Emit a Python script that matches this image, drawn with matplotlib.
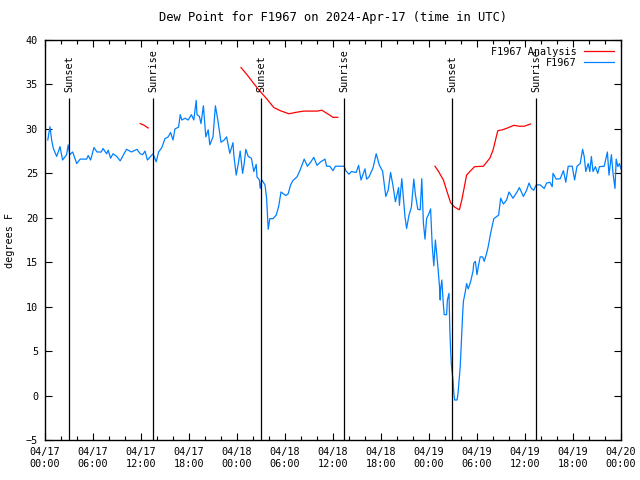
import pandas as pd
import numpy as np
import matplotlib
matplotlib.use("Agg")
import matplotlib.pyplot as plt
import matplotlib.dates as mdates

START = pd.Timestamp("2024-04-17 00:00")

# observed dew point (hours after start, deg F)
obs_hours = [0.35, 0.62, 0.83, 1.04, 1.46, 1.875, 2.2, 2.7, 2.9, 3.1, 3.46, 3.96, 4.4, 5.2, 5.4, 5.7,
             6.12, 6.5, 7.04, 7.25, 7.7, 7.9, 8.2, 8.5, 8.96, 9.4, 10.0, 10.2, 10.8, 11.5, 11.9,
             12.2, 12.5, 12.8, 13.1, 13.5, 13.9, 14.2, 14.6, 15.0, 15.4, 15.7, 16.0, 16.25, 16.7,
             16.9, 17.1, 17.5, 17.9, 18.3, 18.6, 18.9, 19.0, 19.3, 19.5, 19.8, 20.1, 20.4, 20.6,
             21.0, 21.3, 21.6, 22.0, 22.4, 22.7, 23.1, 23.5, 23.6, 23.9, 24.2, 24.4, 24.7, 24.9,
             25.1, 25.4, 25.8, 26.1, 26.4, 26.5, 26.8, 26.9, 27.1, 27.5, 27.7, 27.9, 28.1, 28.5,
             28.9, 29.2, 29.5, 29.8, 30.1, 30.4, 30.7, 31.0, 31.5, 31.9, 32.4, 32.8, 33.2, 33.6,
             34.0, 34.4, 35.0, 35.2, 35.6, 36.0, 36.3, 37.4, 37.6, 38.0, 38.3, 38.9, 39.2, 39.5,
             40.0, 40.2, 40.5, 41.0, 41.4, 41.8, 42.2, 42.6, 42.9, 43.2, 43.5, 43.8, 44.2, 44.3,
             44.6, 45.0, 45.2, 45.5, 45.8, 46.1, 46.3, 46.6, 46.9, 47.1, 47.3, 47.5, 47.7, 48.0,
             48.2, 48.4, 48.6, 48.8, 49.0, 49.1, 49.3, 49.4, 49.45, 49.6, 49.8, 49.9, 50.2, 50.3,
             50.5, 50.6, 50.7, 50.8, 51.0, 51.1, 51.2, 51.5, 51.6, 51.7, 51.9, 52.0, 52.2, 52.3,
             52.5, 52.7, 52.9, 53.2, 53.5, 53.6, 53.8, 54.0, 54.2, 54.4, 54.7, 54.9, 55.2, 55.4,
             55.7, 56.1, 56.7, 56.96, 57.3, 57.7, 58.0, 58.5, 59.0, 59.3, 59.8, 60.2, 60.5, 60.8,
             61.1, 61.4, 61.9, 62.4, 62.7, 63.1, 63.4, 63.5, 63.9, 64.4, 64.8, 65.1, 65.4, 65.9,
             66.2, 66.5, 66.9, 67.2, 67.4, 67.6, 67.9, 68.1, 68.3, 68.5, 68.8, 69.1, 69.3, 69.9,
             70.3, 70.5, 70.8, 71.0, 71.25, 71.4, 71.6, 71.8, 72.0]
obs_dewp = [28.75, 30.25, 28.75, 27.8, 26.9, 28.0, 26.5, 27.1, 28.2, 27.1, 27.4, 26.1, 26.6, 26.6, 27.0, 26.5,
            27.9, 27.4, 27.4, 27.8, 27.2, 27.6, 26.7, 27.2, 26.9, 26.4, 27.4, 27.7, 27.4, 27.7, 27.2,
            27.1, 27.5, 26.5, 26.8, 27.2, 26.3, 27.4, 27.9, 28.9, 29.1, 29.6, 28.75, 30.0, 30.2,
            31.6, 31.0, 31.2, 31.0, 31.6, 31.0, 33.2, 31.6, 31.4, 30.6, 32.6, 29.1, 29.9, 28.2,
            29.1, 32.6, 31.0, 28.5, 28.75, 29.1, 27.25, 28.45, 27.1, 24.8, 26.3, 27.5, 25.0, 26.1,
            27.7, 26.9, 26.7, 25.2, 26.0, 24.6, 24.25, 23.3, 24.25, 23.7, 22.2, 18.7, 19.9, 19.9,
            20.3, 21.25, 22.9, 22.7, 22.5, 22.7, 23.7, 24.2, 24.6, 25.4, 26.6, 25.8, 26.25, 26.8,
            25.9, 26.25, 26.6, 25.8, 25.8, 25.3, 25.8, 25.8, 25.3, 24.9, 25.2, 25.1, 25.9, 24.25,
            25.5, 24.35, 24.6, 25.6, 27.2, 25.9, 25.25, 22.4, 23.1, 25.1, 23.6, 21.8, 23.4, 21.4,
            24.4, 20.1, 18.8, 20.3, 21.2, 24.35, 22.6, 20.95, 20.9, 24.4, 19.4, 17.6, 19.9, 20.5,
            21.0, 16.9, 14.6, 17.5, 15.6, 14.6, 12.4, 10.75, 11.9, 13.0, 10.2, 9.1, 9.1, 10.75,
            11.5, 7.6, 5.1, 3.4, 1.75, 0.3, -0.5, -0.5, 0.06, 1.0, 3.25, 5.1, 9.1, 10.6,
            11.5, 12.6, 12.0, 12.8, 14.0, 14.9, 15.1, 13.6, 14.7, 15.6, 15.6, 15.1, 16.0, 16.75,
            18.25, 19.9, 20.3, 22.2, 21.55, 22.0, 22.9, 22.2, 22.9, 23.4, 22.4, 23.1, 23.9, 23.3,
            23.1, 23.7, 23.7, 23.3, 23.9, 24.0, 23.5, 25.0, 24.35, 24.4, 25.3, 24.0, 25.8, 25.8,
            24.25, 25.8, 26.1, 27.7, 26.9, 25.2, 26.1, 25.2, 26.9, 25.2, 25.75, 25.0, 25.75, 25.8,
            27.4, 24.8, 27.1, 25.0, 23.3, 26.6, 25.75, 26.1, 25.5]

# analysis dew point, one list per run
ana_hours_1 = [11.9, 12.4, 12.9]
ana_dewp_1 = [30.6, 30.4, 30.1]
ana_hours_2 = [24.5, 25.25, 26.1, 26.9, 27.7, 28.6, 29.4, 30.5, 31.3, 32.3, 34.0, 34.6, 35.5, 36.0, 36.6]
ana_dewp_2 = [36.9, 36.1, 35.1, 34.2, 33.4, 32.4, 32.05, 31.7, 31.85, 32.0, 32.0, 32.1, 31.6, 31.3, 31.3]
ana_hours_3 = [48.75, 49.2, 49.8, 50.2, 50.7, 51.2, 51.8, 52.1, 52.7, 53.1, 53.7, 54.8, 55.6, 56.0, 56.6,
               57.2, 57.8, 58.6, 59.3, 59.9, 60.7]
ana_dewp_3 = [25.8, 25.2, 24.25, 23.1, 21.7, 21.2, 20.9, 22.0, 24.8, 25.2, 25.75, 25.8, 26.7, 27.6, 29.8,
              29.9, 30.1, 30.4, 30.3, 30.3, 30.55]

sun_hours = [3.0, 13.5, 27.0, 37.4, 50.9, 61.4]
sun_labels = ["Sunset", "Sunrise", "Sunset", "Sunrise", "Sunset", "Sunrise"]


def to_time(hours):
    return START + pd.to_timedelta(np.asarray(hours, dtype=float), unit='h')


plt.rcParams['font.family'] = ['DejaVu Sans Mono']
plt.rcParams['font.size'] = 7.3

fig = plt.figure(figsize=(6.4, 4.8), dpi=100)
ax = fig.add_axes([45 / 640, 1 - 440 / 480, 576 / 640, 400 / 480])

runs = [(ana_hours_1, ana_dewp_1), (ana_hours_2, ana_dewp_2), (ana_hours_3, ana_dewp_3)]
for i, (hh, vv) in enumerate(runs):
    ax.plot(to_time(hh), vv, color='#ff0000', lw=0.9, label='F1967 Analysis' if i == 0 else None)
ax.plot(to_time(obs_hours), obs_dewp, color='#0080ff', lw=0.9, label='F1967')

for h, lab in zip(sun_hours, sun_labels):
    t = START + pd.Timedelta(hours=h)
    ax.vlines(t, -5, 33.5, color='black', lw=0.9, zorder=3)
    ax.text(t, 34.2, lab, rotation=90, ha='center', va='bottom')

ax.set_xlim(START, START + pd.Timedelta(hours=72))
ax.set_ylim(-5, 40)
ax.set_yticks(np.arange(-5, 41, 5))
ax.xaxis.set_major_locator(mdates.HourLocator(byhour=[0, 6, 12, 18]))
ax.xaxis.set_minor_locator(mdates.HourLocator(interval=2))
ax.xaxis.set_major_formatter(mdates.DateFormatter('%m/%d\n%H:%M'))
ax.tick_params(which='both', direction='in', top=True, right=True, width=0.8)
ax.tick_params(which='major', length=5, pad=5)
ax.tick_params(which='minor', length=3)
for s in ax.spines.values():
    s.set_linewidth(1.0)

ax.set_ylabel('degrees F', labelpad=8)
ax.set_title('Dew Point for F1967 on 2024-Apr-17 (time in UTC)', pad=14)

leg = ax.legend(loc='upper right', frameon=False, markerfirst=False, handlelength=3.0,
                borderaxespad=0.25, labelspacing=0.1, handletextpad=0.7)
for t in leg.get_texts():
    t.set_ha('right')

fig.savefig('out.png', dpi=100)
